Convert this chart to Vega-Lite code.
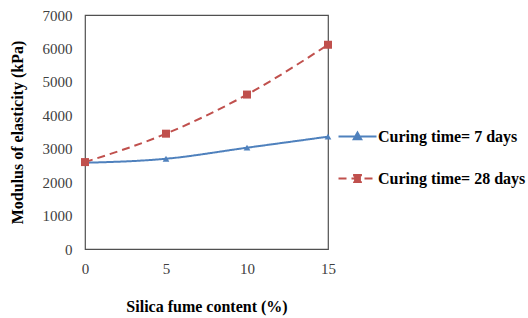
{
  "$schema": "https://vega.github.io/schema/vega-lite/v6.json",
  "width": 243,
  "height": 234,
  "autosize": {"type": "none"},
  "padding": {"left": 85, "top": 15, "right": 200, "bottom": 69},
  "background": "white",
  "config": {
    "view": {"stroke": "#505050", "strokeWidth": 1.2},
    "font": "Liberation Serif"
  },
  "data": {
    "values": [
      {"silica": 0, "modulus": 2580, "series": "Curing time= 7 days"},
      {"silica": 5, "modulus": 2700, "series": "Curing time= 7 days"},
      {"silica": 10, "modulus": 3030, "series": "Curing time= 7 days"},
      {"silica": 15, "modulus": 3360, "series": "Curing time= 7 days"},
      {"silica": 0, "modulus": 2600, "series": "Curing time= 28 days"},
      {"silica": 5, "modulus": 3450, "series": "Curing time= 28 days"},
      {"silica": 10, "modulus": 4620, "series": "Curing time= 28 days"},
      {"silica": 15, "modulus": 6110, "series": "Curing time= 28 days"}
    ]
  },
  "encoding": {
    "x": {
      "field": "silica", "type": "quantitative",
      "scale": {"domain": [0, 15], "nice": false},
      "axis": {
        "values": [0, 5, 10, 15], "grid": false, "ticks": false, "domain": false,
        "labelFont": "Liberation Serif", "labelFontSize": 15, "labelColor": "#404040",
        "labelPadding": 12, "labelFlush": false,
        "title": "Silica fume content (%)", "titleFont": "Liberation Serif",
        "titleFontSize": 16, "titleFontWeight": "bold", "titleColor": "#000000",
        "titlePadding": 22
      }
    },
    "y": {
      "field": "modulus", "type": "quantitative",
      "scale": {"domain": [0, 7000], "nice": false},
      "axis": {
        "values": [0, 1000, 2000, 3000, 4000, 5000, 6000, 7000], "format": "d",
        "grid": false, "ticks": false, "domain": false,
        "labelFont": "Liberation Serif", "labelFontSize": 15, "labelColor": "#404040",
        "labelPadding": 13,
        "title": "Modulus of elasticity (kPa)", "titleFont": "Liberation Serif",
        "titleFontSize": 16, "titleFontWeight": "bold", "titleColor": "#000000",
        "titlePadding": 17
      }
    },
    "color": {
      "field": "series", "type": "nominal",
      "scale": {"domain": ["Curing time= 7 days", "Curing time= 28 days"], "range": ["#4F81BD", "#C0504D"]},
      "legend": {
        "orient": "none", "legendX": 262, "legendY": 111, "title": null,
        "labelFont": "Liberation Serif", "labelFontSize": 16, "labelFontWeight": "bold",
        "labelColor": "#000000", "labelOffset": 10, "rowPadding": 23,
        "symbolSize": 361, "symbolStrokeWidth": 2,
        "encode": {
          "symbols": {
            "update": {
              "shape": {"signal": "datum.value === 'Curing time= 7 days' ? 'M-2,0H2M0,-0.42L0.4,0.3L-0.4,0.3Z' : 'M-2,0H2M-0.36,-0.36H0.36V0.36H-0.36Z'"},
              "strokeDash": {"signal": "datum.value === 'Curing time= 7 days' ? [] : [10,5]"},
              "fill": {"signal": "datum.value === 'Curing time= 7 days' ? '#4F81BD' : '#C0504D'"},
              "stroke": {"signal": "datum.value === 'Curing time= 7 days' ? '#4F81BD' : '#C0504D'"},
              "opacity": {"value": 1}
            }
          }
        }
      }
    }
  },
  "layer": [
    {
      "mark": {"type": "line", "interpolate": "monotone", "strokeWidth": 2},
      "encoding": {
        "strokeDash": {
          "field": "series", "type": "nominal",
          "scale": {"domain": ["Curing time= 7 days", "Curing time= 28 days"], "range": [[1, 0], [8, 5]]},
          "legend": null
        }
      }
    },
    {
      "transform": [{"filter": "datum.series === 'Curing time= 7 days'"}],
      "mark": {"type": "point", "shape": "triangle-up", "filled": true, "opacity": 1, "size": 45}
    },
    {
      "transform": [{"filter": "datum.series === 'Curing time= 28 days'"}],
      "mark": {"type": "point", "shape": "square", "filled": true, "opacity": 1, "size": 64}
    }
  ]
}
